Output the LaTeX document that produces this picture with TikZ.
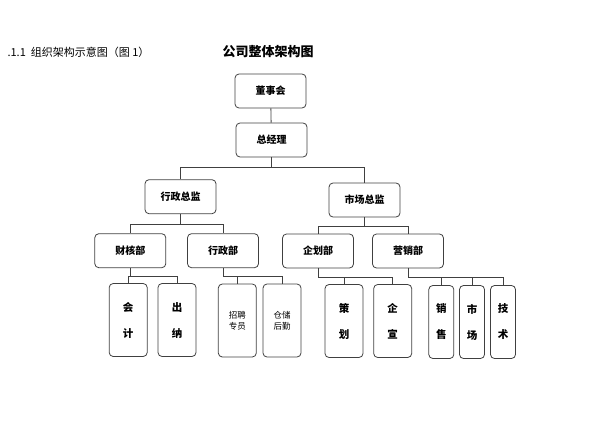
\documentclass[tikz,border=0pt]{standalone}
\usepackage{fontspec}
\newfontfamily\cjk{Noto Sans CJK SC}
\usetikzlibrary{calc}

\begin{document}
\begin{tikzpicture}[x=1pt,y=-1pt,
  box/.style={draw=black!75,line width=0.8pt,rounded corners=4pt,minimum width=71pt,minimum height=34pt,font=\cjk\bfseries\fontsize{10}{12}\selectfont},
  leaf/.style={draw=black!75,line width=0.8pt,rounded corners=4pt,minimum width=38pt,minimum height=73pt,align=center,font=\cjk\bfseries\fontsize{10.5}{12}\selectfont},
  thin/.style={leaf,minimum width=25pt},
  wire/.style={draw=black!75,line width=0.8pt}]
\useasboundingbox (0,0) rectangle (601,425);

%标题
\node[font=\cjk\fontsize{11}{13}\selectfont,anchor=west] (head) at (4,52) {.1.1\ \ 组织架构示意图（图 1）};
\node[font=\cjk\bfseries\fontsize{13}{15}\selectfont] (title) at (268,52) {公司整体架构图};

%上层
\node[box] (dsh) at (270.5,91) {董事会};
\node[box] (zjl) at (271.5,140) {总经理};
\node[box] (xzzj) at (180.5,196.7) {行政总监};
\node[box] (sczj) at (364.5,200) {市场总监};

%各部门
\node[box] (chb) at (130.3,250.7) {财核部};
\node[box] (xzb) at (223,250.7) {行政部};
\node[box] (qhb) at (318,251) {企划部};
\node[box] (yxb) at (408,251) {营销部};

%岗位
\node[leaf] (kj) at (128.2,320) {会\\[14pt]计};
\node[leaf] (cn) at (177,320) {出\\[14pt]纳};
\node[leaf,font=\cjk\fontsize{8.5}{11}\selectfont] (zp) at (237.3,320.5) {招聘\\专员};
\node[leaf,font=\cjk\fontsize{8.5}{11}\selectfont] (cc) at (282,320.5) {仓储\\后勤};
\node[leaf] (ch) at (344,321) {策\\[14pt]划};
\node[leaf] (qx) at (392.7,321) {企\\[14pt]宣};
\node[thin] (xs) at (441.3,322) {销\\[14pt]售};
\node[thin] (sc) at (472,322) {市\\[14pt]场};
\node[thin] (js) at (503,322) {技\\[14pt]术};

%连线
\draw[wire] (dsh) -- (zjl);
\draw[wire] (zjl.south) -- ++(0,10) coordinate (b0);
\draw[wire] (xzzj.north) |- (b0) -| (sczj.north);
\draw[wire] (xzzj.south) -- ++(0,10.5) coordinate (b1);
\draw[wire] (chb.north) |- (b1) -| (xzb.north);
\draw[wire] (sczj.south) -- ++(0,8.5) coordinate (b2);
\draw[wire] (qhb.north) |- (b2) -| (yxb.north);
\draw[wire] (chb.south) -- ++(0,8) coordinate (b3);
\draw[wire] (kj.north) |- (b3) -| (cn.north);
\draw[wire] (xzb.south) -- ++(0,8.5) coordinate (b4);
\draw[wire] (zp.north) |- (b4) -| (cc.north);
\draw[wire] (qhb.south) -- ++(0,8.5) coordinate (b5);
\draw[wire] (ch.north) |- (b5) -| (qx.north);
\draw[wire] (yxb.south) -- ++(0,9) coordinate (b6);
\draw[wire] (b6) -| (sc.north);
\draw[wire] (xs.north) |- (b6) -| (js.north);
\end{tikzpicture}
\end{document}
